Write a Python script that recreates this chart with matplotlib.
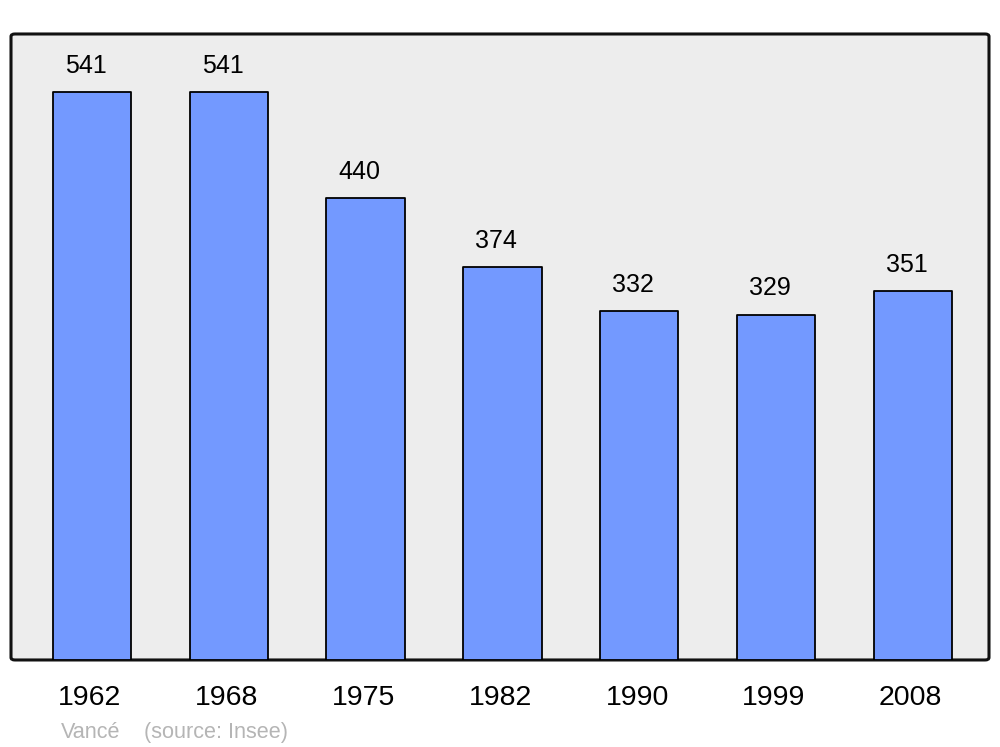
import numpy as np
import matplotlib.pyplot as plt
import matplotlib.transforms as mtransforms
from matplotlib.patches import FancyBboxPatch

plt.rcParams['font.family'] = ['Liberation Sans', 'DejaVu Sans']

annees = ["1962", "1968", "1975", "1982", "1990", "1999", "2008"]
population = [541, 541, 440, 374, 332, 329, 351]
commune = "Vancé"
source = "(source: Insee)"

fig = plt.figure(figsize=(10, 7.47), dpi=100)
ax = fig.add_axes([0.011, 0.1165, 0.978, 0.838])
ax.set_facecolor("none")

# fond arrondi
fond = FancyBboxPatch((0, 0), 1, 1, boxstyle="round,pad=0,rounding_size=0.004",
                      transform=ax.transAxes, facecolor="#ededed",
                      edgecolor="#111111", linewidth=2.2, zorder=0, clip_on=False)
ax.add_patch(fond)

x = np.arange(len(annees))
barres = ax.bar(x, population, width=0.572, color="#7399ff",
                edgecolor="black", linewidth=1.3, zorder=2)
for b in barres:
    b.set_joinstyle("round")

for xi, v in zip(x, population):
    ax.annotate(str(v), (xi, v), xytext=(-4.5, 10.3), textcoords="offset points",
                ha="center", va="bottom", fontsize=18)

ax.set_xlim(-0.592, 6.557)
ax.set_ylim(0, 596.2)
ax.set_xticks(x)
ax.set_xticklabels(annees, fontsize=20.5)
ax.tick_params(axis="x", length=0, pad=18)
decal = mtransforms.ScaledTranslation(-2 / 100, 0, fig.dpi_scale_trans)
for lab in ax.get_xticklabels():
    lab.set_transform(lab.get_transform() + decal)
ax.set_yticks([])
for s in ax.spines.values():
    s.set_visible(False)

fig.text(0.061, 0.012, commune, fontsize=15.6, color="#b5b5b5")
fig.text(0.144, 0.012, source, fontsize=15.6, color="#b5b5b5")

fig.savefig("out.png", dpi=100)
